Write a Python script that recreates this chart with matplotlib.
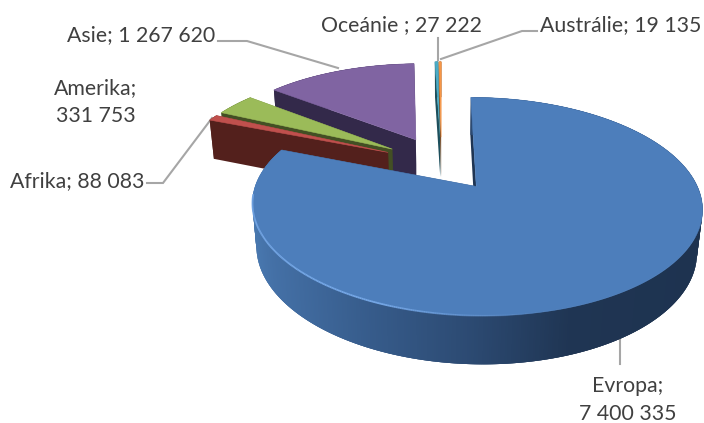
import numpy as np
import matplotlib
matplotlib.use("Agg")
import matplotlib.pyplot as plt
from matplotlib.patches import Polygon
from matplotlib.colors import to_rgb

regions = ["Evropa", "Afrika", "Amerika", "Asie", "Oceánie", "Austrálie"]
values = [7400335, 88083, 331753, 1267620, 27222, 19135]
top_colors = ["#4d7ebb", "#c0504d", "#9bbb59", "#8064a2", "#4bacc6", "#f79646"]
wall_colors = ["#1f3553", "#53201c", "#434f24", "#33294a", "#1d4f5c", "#7a4a22"]
label_texts = ["Evropa;\n7 400 335", "Afrika; 88 083", "Amerika;\n331 753",
               "Asie; 1 267 620", "Oceánie ; 27 222", "Austrálie; 19 135"]

# projection of the tilted, exploded pie
CX, CY, SX, SY, PERSP, DEPTH, DEPTH_PERSP, EXPLODE = 441.5, 163, 212, 97, 0.177, 42, 0.02, 0.28


def project(u, v, z=0.0):
    w = 1 + PERSP * v + DEPTH_PERSP * z
    return CX + SX * u / w, CY - (SY * v - DEPTH * z) / w


fig = plt.figure(figsize=(7.04, 4.23), dpi=100)
ax = fig.add_axes([0, 0, 1, 1])
ax.set_xlim(0, 704)
ax.set_ylim(423, 0)
ax.axis("off")

total = sum(values)
edges = np.concatenate([[0], np.cumsum(values)]) / total * 2 * np.pi


def slice_geometry(i):
    a0, a1 = edges[i], edges[i + 1]
    mid = (a0 + a1) / 2
    ox, oy = EXPLODE * np.sin(mid), EXPLODE * np.cos(mid)
    t = np.linspace(a0, a1, max(int((a1 - a0) * 120), 6))
    return ox, oy, t


def quad(p, q, color, z):
    ax.add_patch(Polygon([project(*p), project(*q), project(*q, 1), project(*p, 1)],
                         closed=True, fc=color, ec="none", zorder=z))


grad_x = [255, 273, 373, 473, 573, 700]
grad_rgb = np.array([to_rgb(c) for c in ["#4877ae", "#4470a6", "#365b8a", "#2c4a72", "#1f3553", "#1e3350"]])


def wall_gradient(i, x):
    if i != 0:
        return wall_colors[i]
    return tuple(np.interp(x, grad_x, grad_rgb[:, k]) for k in range(3))


def draw_slice(i, z):
    ox, oy, t = slice_geometry(i)
    ux, uy = ox + np.sin(t), oy + np.cos(t)
    quad((ox, oy), (ux[0], uy[0]), wall_colors[i], z)
    quad((ox, oy), (ux[-1], uy[-1]), wall_colors[i], z)
    # overlapping strips so no seams show between neighbours
    for j in range(len(t) - 1):
        k = min(j + 3, len(t) - 1)
        quad((ux[j], uy[j]), (ux[k], uy[k]), wall_gradient(i, project(ux[j], uy[j])[0]), z)
    pts = [project(ox, oy)] + [project(a, b) for a, b in zip(ux, uy)]
    ax.add_patch(Polygon(pts, closed=True, fc=top_colors[i], ec=top_colors[i], lw=0.4, zorder=z + 0.5))
    return ux, uy


draw_order = [4, 5, 3, 2, 1, 0]
for n, i in enumerate(draw_order):
    ux, uy = draw_slice(i, 2 + n)

# light rim on the front edge of the largest slice
xs, ys = zip(*[project(a, b) for a, b in zip(ux, uy)])
xs, ys = np.array(xs), np.array(ys)
for j in range(len(xs) - 1):
    if ys[j] > 195 and xs[j] < 540:
        alpha = min(1, max(0, (540 - xs[j]) / 160))
        ax.plot(xs[j:j + 2], ys[j:j + 2], color="#75a7e6", lw=1.3, alpha=alpha,
                solid_capstyle="butt", zorder=9)

leaders = [
    ([620, 620], [337, 364]),
    ([147, 163, 212], [183, 183, 118]),
    ([218, 247, 338], [41, 41, 68]),
    ([437.5, 437.5], [38, 60]),
    ([537, 522, 441], [31, 31, 59]),
]
for lx, ly in leaders:
    ax.plot(lx, ly, color="#a6a6a6", lw=1.5, zorder=1, solid_joinstyle="miter")

label_pos = [(628, 399.5, "center"), (10, 181, "left"), (96, 102.5, "center"),
             (67, 35, "left"), (321, 25, "left"), (540, 25, "left")]
for s, (x, y, ha) in zip(label_texts, label_pos):
    ax.text(x, y, s, ha=ha, va="center", ma="center", fontsize=15.35, family="Lato",
            color="#404040", linespacing=1.5, zorder=12)

fig.savefig("out.png", dpi=100)
